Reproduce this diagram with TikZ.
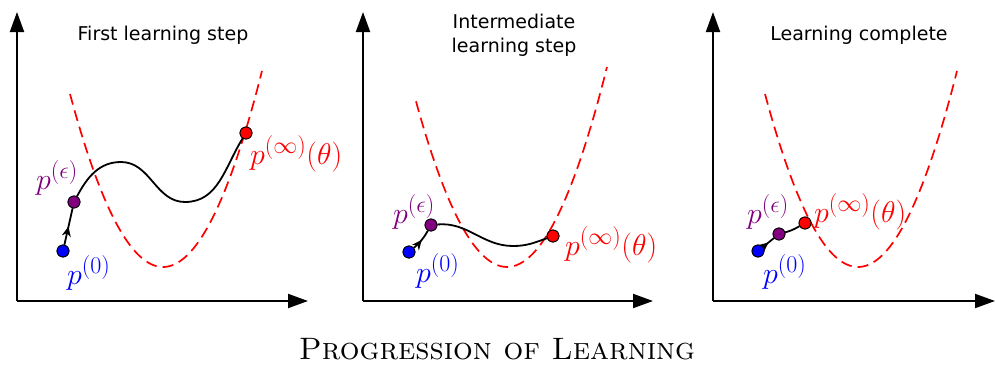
\RequirePackage{fix-cm}
\documentclass[tikz,border=0pt]{standalone}
\usepackage{fontspec}
\newfontfamily\titlefont{DejaVu Sans}
\usetikzlibrary{arrows.meta,decorations.markings}
\DeclareMathSizes{30}{30}{24}{18}
\definecolor{mypurple}{RGB}{128,0,128}
\definecolor{myred}{RGB}{255,0,0}
\definecolor{myblue}{RGB}{0,0,255}
\begin{document}
\begin{tikzpicture}[x=1pt,y=-1pt,
  axis/.style={line width=2pt,-{Triangle[length=20pt,width=14pt]}},
  lossline/.style={myred,line width=1.7pt,dash pattern=on 11pt off 6pt},
  pathline/.style={black,line width=1.8pt},
  midarrow/.style={postaction={decorate},decoration={markings,mark=at position 0.5 with {\arrow{Stealth[length=10pt,width=9pt]}}}},
  dot/.style={circle,draw=black,line width=0.8pt,minimum size=12pt,inner sep=0pt},
  lbl/.style={anchor=base west,inner sep=0pt,font=\fontsize{30}{36}\selectfont},
  ttl/.style={anchor=base,inner sep=0pt,font=\titlefont\fontsize{19}{24}\selectfont}]
\useasboundingbox (0,0) rectangle (995,364);

% ---------- Panel 1 ----------
\coordinate (o1) at (17,301);
\draw[axis] (o1) -- (17,12);
\draw[axis] (o1) -- (308,301);
\node[ttl] (t1) at (163,40) {First learning step};
\draw[lossline] plot[domain=-93:99,smooth,samples=60] ({163+\x},{267-0.02*\x*\x});
\node[dot,fill=myblue] (b1) at (63,251) {};
\node[dot,fill=mypurple] (e1) at (74,202) {};
\node[dot,fill=myred] (r1) at (246,133) {};
\coordinate (k1) at (121,162);
\coordinate (m1) at (185,202);
\draw[pathline,midarrow] (b1) -- (e1);
\draw[pathline] (e1) to[out=62,in=180] (k1) to[out=0,in=180] (m1) to[out=0,in=238] (r1);
\node[dot,fill=myblue] at (b1) {};
\node[dot,fill=mypurple] at (e1) {};
\node[dot,fill=myred] at (r1) {};
\node[lbl,text=myblue] (l01) at (67,284) {$p^{(0)}$};
\node[lbl,text=mypurple] (le1) at (36,189) {$p^{(\epsilon)}$};
\node[lbl,text=myred] (li1) at (250,164) {$p^{(\infty)}(\theta)$};

% ---------- Panel 2 ----------
\coordinate (o2) at (363,301);
\draw[axis] (o2) -- (363,12);
\draw[axis] (o2) -- (653,301);
\node[ttl] (t2a) at (514,28) {Intermediate};
\node[ttl] (t2b) at (514,52) {learning step};
\draw[lossline] plot[domain=-91:100,smooth,samples=60] ({507+\x},{267-0.02*\x*\x});
\node[dot,fill=myblue] (b2) at (409,252) {};
\node[dot,fill=mypurple] (e2) at (431,225) {};
\node[dot,fill=myred] (r2) at (553,236) {};
\coordinate (m2) at (513,246);
\draw[pathline,midarrow] (b2) to[bend right=10] (e2);
\draw[pathline] (e2) to[out=5,in=180] (m2) to[out=0,in=200] (r2);
\node[dot,fill=myblue] at (b2) {};
\node[dot,fill=mypurple] at (e2) {};
\node[dot,fill=myred] at (r2) {};
\node[lbl,text=myblue] (l02) at (416,282) {$p^{(0)}$};
\node[lbl,text=mypurple] (le2) at (393,223) {$p^{(\epsilon)}$};
\node[lbl,text=myred] (li2) at (565,255) {$p^{(\infty)}(\theta)$};

% ---------- Panel 3 ----------
\coordinate (o3) at (713,301);
\draw[axis] (o3) -- (713,12);
\draw[axis] (o3) -- (995,301);
\node[ttl] (t3) at (859,40) {Learning complete};
\draw[lossline] plot[domain=-93:99,smooth,samples=60] ({858+\x},{267-0.02*\x*\x});
\node[dot,fill=myblue] (b3) at (758,251) {};
\node[dot,fill=mypurple] (e3) at (779,234) {};
\node[dot,fill=myred] (r3) at (805,223) {};
\draw[pathline,midarrow] (b3) -- (e3);
\draw[pathline] (e3) to[out=15,in=210] (r3);
\node[dot,fill=myblue] at (b3) {};
\node[dot,fill=mypurple] at (e3) {};
\node[dot,fill=myred] at (r3) {};
\node[lbl,text=myblue] (l03) at (763,283) {$p^{(0)}$};
\node[lbl,text=mypurple] (le3) at (747,223) {$p^{(\epsilon)}$};
\node[lbl,text=myred] (li3) at (814,222) {$p^{(\infty)}(\theta)$};

% ---------- Caption ----------
\node[anchor=base,inner sep=0pt,font=\fontsize{31}{36}\selectfont\scshape] (cap) at (497,359) {Progression of Learning};
\end{tikzpicture}
\end{document}
